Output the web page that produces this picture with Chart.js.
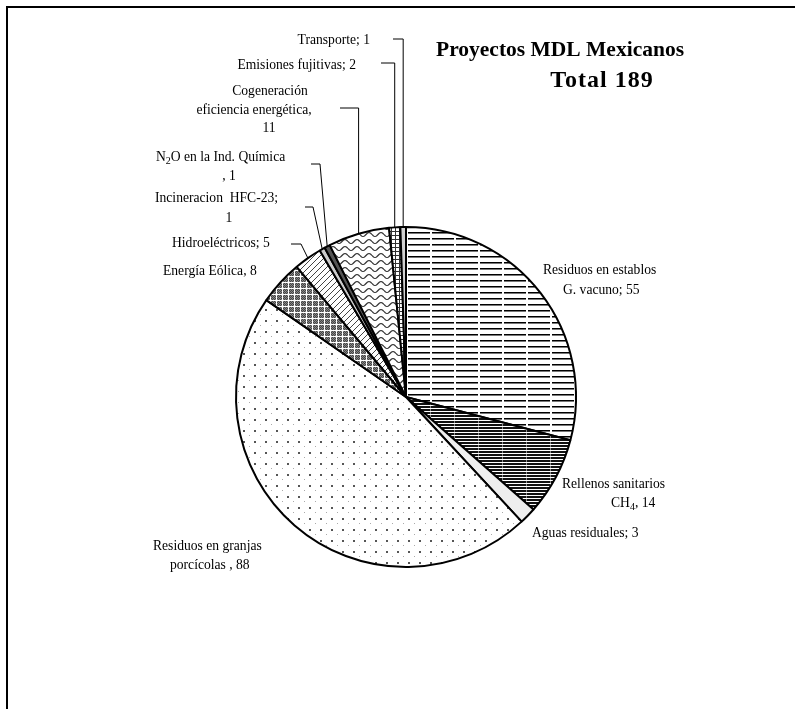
<!DOCTYPE html>
<html>
<head>
<meta charset="utf-8">
<script src="https://cdn.jsdelivr.net/npm/chart.js@4/dist/chart.umd.min.js"></script>
<style>
  body { margin: 0; background: #fff; }
  canvas { display: block; }
</style>
</head>
<body>
<canvas id="chart" width="795" height="709"></canvas>
<script>
// data
const categories = [
  'Residuos en establos G. vacuno',
  'Rellenos sanitarios CH4',
  'Aguas residuales',
  'Residuos en granjas porcícolas',
  'Energía Eólica',
  'Hidroeléctricos',
  'Incineracion HFC-23',
  'N2O en la Ind. Química',
  'Cogeneración eficiencia energética',
  'Emisiones fujitivas',
  'Transporte'
];
const projectCounts = [55, 14, 3, 88, 8, 5, 1, 1, 11, 2, 1];
const titleLines = ['Proyectos MDL Mexicanos', 'Total 189'];

const canvas = document.getElementById('chart');
const mainCtx = canvas.getContext('2d');
const FONT = '"Liberation Serif", "Times New Roman", serif';

function makePattern (w, h, draw) {
  const c = document.createElement('canvas');
  c.width = w;
  c.height = h;
  const g = c.getContext('2d');
  g.fillStyle = '#fff';
  g.fillRect(0, 0, w, h);
  draw(g, w, h);
  return mainCtx.createPattern(c, 'repeat');
}

// fills, one per slice
const fills = [
  makePattern(24, 6, (g) => {
    g.fillStyle = '#000'; g.fillRect(0, 4, 22, 1);
    g.fillStyle = '#777'; g.fillRect(0, 5, 22, 1);
  }),
  makePattern(24, 3, (g) => {
    g.fillStyle = '#111'; g.fillRect(0, 1, 24, 2);
    g.fillStyle = '#888'; g.fillRect(22, 1, 1, 2);
  }),
  '#eeeeee',
  makePattern(11, 11, (g) => {
    g.fillStyle = '#555'; g.fillRect(1, 1, 2, 2);
    g.fillStyle = '#aaa'; g.fillRect(7, 6, 1, 1);
  }),
  makePattern(6, 6, (g) => {
    for (let i = 0; i < 6; i++) {
      for (let j = 0; j < 6; j++) {
        g.fillStyle = (i + j) % 2 ? '#444' : '#888';
        g.fillRect(i, j, 1, 1);
      }
    }
    g.fillStyle = '#fff';
    g.fillRect(0, 0, 6, 1);
    g.fillRect(0, 0, 1, 6);
  }),
  makePattern(6, 6, (g) => {
    g.strokeStyle = '#444'; g.lineWidth = 1;
    g.beginPath(); g.moveTo(0, 6); g.lineTo(6, 0); g.stroke();
  }),
  '#cccccc',
  '#555555',
  makePattern(12, 7, (g) => {
    g.strokeStyle = '#333'; g.lineWidth = 1.2;
    g.beginPath();
    for (let x = 0; x <= 12; x++) {
      const y = 3.5 + 2 * Math.sin(x / 12 * Math.PI * 2);
      if (x === 0) g.moveTo(x, y); else g.lineTo(x, y);
    }
    g.stroke();
  }),
  makePattern(4, 4, (g) => {
    g.fillStyle = '#333';
    g.fillRect(0, 3, 4, 1);
    g.fillRect(3, 0, 1, 4);
  }),
  '#d0d0d0'
];

// label layout, one entry per slice ({v} is replaced by the value)
const labelLayout = [
  { lines: [{ x: 543, y: 270, align: 'left', parts: ['Residuos en establos'] },
            { x: 563, y: 290, align: 'left', parts: ['G. vacuno; {v}'] }] },
  { lines: [{ x: 562, y: 484, align: 'left', parts: ['Rellenos sanitarios'] },
            { x: 611, y: 503, align: 'left', parts: ['CH', { sub: '4' }, ', {v}'] }] },
  { lines: [{ x: 532, y: 533, align: 'left', parts: ['Aguas residuales; {v}'] }] },
  { lines: [{ x: 153, y: 546, align: 'left', parts: ['Residuos en granjas'] },
            { x: 170, y: 565, align: 'left', parts: ['porcícolas , {v}'] }] },
  { lines: [{ x: 163, y: 271, align: 'left', parts: ['Energía Eólica, {v}'] }] },
  { lines: [{ x: 172, y: 243, align: 'left', parts: ['Hidroeléctricos; {v}'] }],
    leader: { x: 291, y: 244, elbow: 301 } },
  { lines: [{ x: 155, y: 198, align: 'left', parts: ['Incineracion  HFC-23;'] },
            { x: 229, y: 218, align: 'center', parts: ['{v}'] }],
    leader: { x: 305, y: 207, elbow: 313 } },
  { lines: [{ x: 156, y: 157, align: 'left', parts: ['N', { sub: '2' }, 'O en la Ind. Química'] },
            { x: 229, y: 176, align: 'center', parts: [', {v}'] }],
    leader: { x: 311, y: 164, elbow: 320 } },
  { lines: [{ x: 270, y: 91, align: 'center', parts: ['Cogeneración'] },
            { x: 254, y: 110, align: 'center', parts: ['eficiencia energética,'] },
            { x: 269, y: 128, align: 'center', parts: ['{v}'] }],
    leader: { x: 340, y: 108 } },
  { lines: [{ x: 356, y: 65, align: 'right', parts: ['Emisiones fujitivas; {v}'] }],
    leader: { x: 381, y: 63 } },
  { lines: [{ x: 370, y: 40, align: 'right', parts: ['Transporte; {v}'] }],
    leader: { x: 393, y: 39 } }
];

function drawLine (ctx, line, value) {
  const parts = line.parts.map(p => typeof p === 'string' ? { t: p.replace('{v}', value) } : { t: p.sub, sub: true });
  const widthOf = (p) => {
    ctx.font = (p.sub ? '10px ' : '13.6px ') + FONT;
    return ctx.measureText(p.t).width;
  };
  const total = parts.reduce((s, p) => s + widthOf(p), 0);
  let x = line.x;
  if (line.align === 'center') x -= total / 2;
  if (line.align === 'right') x -= total;
  for (const p of parts) {
    ctx.font = (p.sub ? '10px ' : '13.6px ') + FONT;
    ctx.fillText(p.t, x, line.y + (p.sub ? 4 : 0));
    x += widthOf(p);
  }
}

const labelsPlugin = {
  id: 'pieLabels',
  beforeDraw (chart) {
    const ctx = chart.ctx;
    ctx.save();
    ctx.strokeStyle = '#000';
    ctx.lineWidth = 2;
    ctx.beginPath();
    ctx.moveTo(7, 800);
    ctx.lineTo(7, 7);
    ctx.lineTo(800, 7);
    ctx.stroke();
    ctx.restore();
  },
  afterDatasetsDraw (chart) {
    const ctx = chart.ctx;
    const meta = chart.getDatasetMeta(0);
    ctx.save();
    ctx.fillStyle = '#000';
    ctx.strokeStyle = '#000';
    ctx.textBaseline = 'middle';
    ctx.textAlign = 'left';

    labelLayout.forEach((lab, i) => {
      const value = projectCounts[i];
      lab.lines.forEach(line => drawLine(ctx, line, value));
      if (lab.leader) {
        const arc = meta.data[i];
        const p = arc.getProps(['x', 'y', 'startAngle', 'endAngle', 'outerRadius'], true);
        const mid = (p.startAngle + p.endAngle) / 2;
        const px = p.x + Math.cos(mid) * p.outerRadius;
        const py = p.y + Math.sin(mid) * p.outerRadius;
        const elbow = lab.leader.elbow !== undefined ? lab.leader.elbow : px;
        ctx.lineWidth = 1;
        ctx.beginPath();
        ctx.moveTo(lab.leader.x, lab.leader.y);
        ctx.lineTo(elbow, lab.leader.y);
        ctx.lineTo(px, py);
        ctx.stroke();
      }
    });

    // title
    ctx.textAlign = 'center';
    ctx.font = 'bold 21.5px ' + FONT;
    ctx.fillText(titleLines[0], 560, 50);
    ctx.font = 'bold 24px ' + FONT;
    ctx.letterSpacing = '1px';
    ctx.fillText(titleLines[1], 602, 81);
    ctx.letterSpacing = '0px';
    ctx.restore();
  }
};

new Chart(canvas, {
  type: 'pie',
  data: {
    labels: categories,
    datasets: [{
      data: projectCounts,
      backgroundColor: fills,
      borderColor: '#000',
      borderWidth: 2
    }]
  },
  options: {
    responsive: false,
    animation: false,
    radius: 170,
    layout: { padding: { left: 230, right: 213, top: 220, bottom: 135 } },
    plugins: {
      legend: { display: false },
      tooltip: { enabled: false }
    }
  },
  plugins: [labelsPlugin]
});
</script>
</body>
</html>
